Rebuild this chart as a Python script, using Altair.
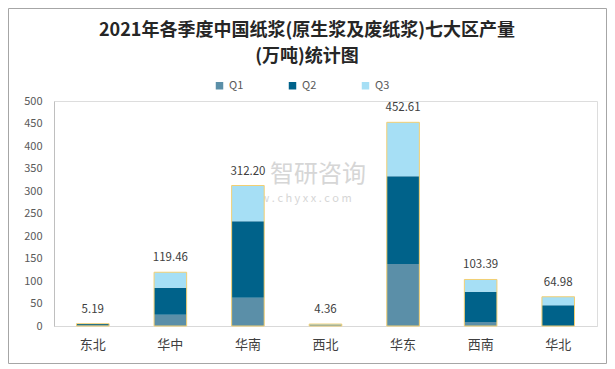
import altair as alt
import pandas as pd

regions = ["东北", "华中", "华南", "西北", "华东", "西南", "华北"]
quarters = ["Q1", "Q2", "Q3"]
q1 = [2.0, 25.0, 63.0, 1.6, 138.0, 9.0, 0.0]
q2 = [2.2, 60.0, 170.0, 1.8, 195.0, 67.0, 46.0]
q3 = [0.99, 34.46, 79.20, 0.96, 119.61, 27.39, 18.98]
totals = [5.19, 119.46, 312.20, 4.36, 452.61, 103.39, 64.98]
colors = ["#5b8fa8", "#00628a", "#a6dff5"]
title_lines = ["2021年各季度中国纸浆(原生浆及废纸浆)七大区产量", "(万吨)统计图"]
y_ticks = list(range(0, 501, 50))

rows = []
for i, r in enumerate(regions):
    for k, (qn, vals) in enumerate(zip(quarters, [q1, q2, q3])):
        rows.append({"region": r, "quarter": qn, "qi": k, "value": vals[i]})
df = pd.DataFrame(rows)
tot = pd.DataFrame({"region": regions, "total": totals,
                    "label": [f"{t:.2f}" for t in totals]})

FONT = "Noto Sans CJK SC"
W, H = 543, 225

xaxis = alt.Axis(title=None, labelAngle=0, ticks=False, labelFontSize=13,
                 labelColor="#404040", labelPadding=12, domainColor="#d9d9d9",
                 labelFont=FONT)
xscale = alt.Scale(paddingInner=0.58, paddingOuter=0.29)
yscale = alt.Scale(domain=[0, 500], nice=False)
yaxis = alt.Axis(title=None, values=y_ticks, grid=False, ticks=False,
                 labelOverlap=False, labelFontSize=11, labelColor="#595959",
                 labelPadding=12, domainColor="#bfbfbf", labelFont=FONT)

bars = alt.Chart(df).mark_bar().encode(
    x=alt.X("region:N", sort=regions, scale=xscale, axis=xaxis),
    y=alt.Y("value:Q", stack="zero", scale=yscale, axis=yaxis),
    color=alt.Color("quarter:N", scale=alt.Scale(domain=quarters, range=colors),
                    legend=alt.Legend(title=None, orient="none", legendX=160, legendY=-21,
                                      direction="horizontal", columns=3,
                                      symbolType="square", symbolSize=56,
                                      symbolStrokeWidth=0, labelFontSize=11,
                                      labelColor="#595959", labelOffset=4,
                                      columnPadding=43, labelFont=FONT)),
    order=alt.Order("qi:Q", sort="ascending"),
)

outline = alt.Chart(tot).mark_bar(fill=None, stroke="#f2cf73", strokeWidth=1).encode(
    x=alt.X("region:N", sort=regions, scale=xscale, axis=xaxis),
    y=alt.Y("total:Q", scale=yscale, axis=yaxis),
)

labels = alt.Chart(tot).mark_text(baseline="bottom", dy=-9, fontSize=11.5,
                                  color="#404040", font=FONT).encode(
    x=alt.X("region:N", sort=regions, scale=xscale, axis=xaxis),
    y=alt.Y("total:Q", scale=yscale, axis=yaxis),
    text="label:N",
)

one = pd.DataFrame({"a": [0]})
border = alt.Chart(one).mark_rect(fill=None, stroke="#a6a6a6", strokeWidth=1).encode(
    x=alt.value(-45.5), x2=alt.value(552.5), y=alt.value(-92.5), y2=alt.value(262.5))

t1 = alt.Chart(pd.DataFrame({"t": [title_lines[0]]})).mark_text(
    fontSize=18, fontWeight="bold", color="#262626", font=FONT, align="center",
    baseline="middle").encode(x=alt.value(253), y=alt.value(-70), text="t:N")
t2 = alt.Chart(pd.DataFrame({"t": [title_lines[1]]})).mark_text(
    fontSize=18, fontWeight="bold", color="#262626", font=FONT, align="center",
    baseline="middle").encode(x=alt.value(253), y=alt.value(-44), text="t:N")

wm1 = alt.Chart(pd.DataFrame({"t": ["智研咨询"]})).mark_text(
    fontSize=24, color="#cfcfcf", font=FONT, align="left", baseline="middle",
    opacity=0.85).encode(x=alt.value(216), y=alt.value(74), text="t:N")
wm2 = alt.Chart(pd.DataFrame({"t": ["w w w . c h y x x . c o m"]})).mark_text(
    fontSize=11, color="#cfcfcf", font=FONT, align="left", baseline="middle",
    opacity=0.85).encode(x=alt.value(184), y=alt.value(98), text="t:N")

chart = alt.layer(border, wm1, wm2, t1, t2, bars, outline, labels).properties(
    width=W, height=H,
    autosize=alt.AutoSizeParams(type="none"),
    padding={"left": 46, "top": 93, "right": 10, "bottom": 38},
).configure_view(stroke=None).configure(font=FONT)

chart.save("out.html", embed_options={"renderer": "svg", "actions": False})
